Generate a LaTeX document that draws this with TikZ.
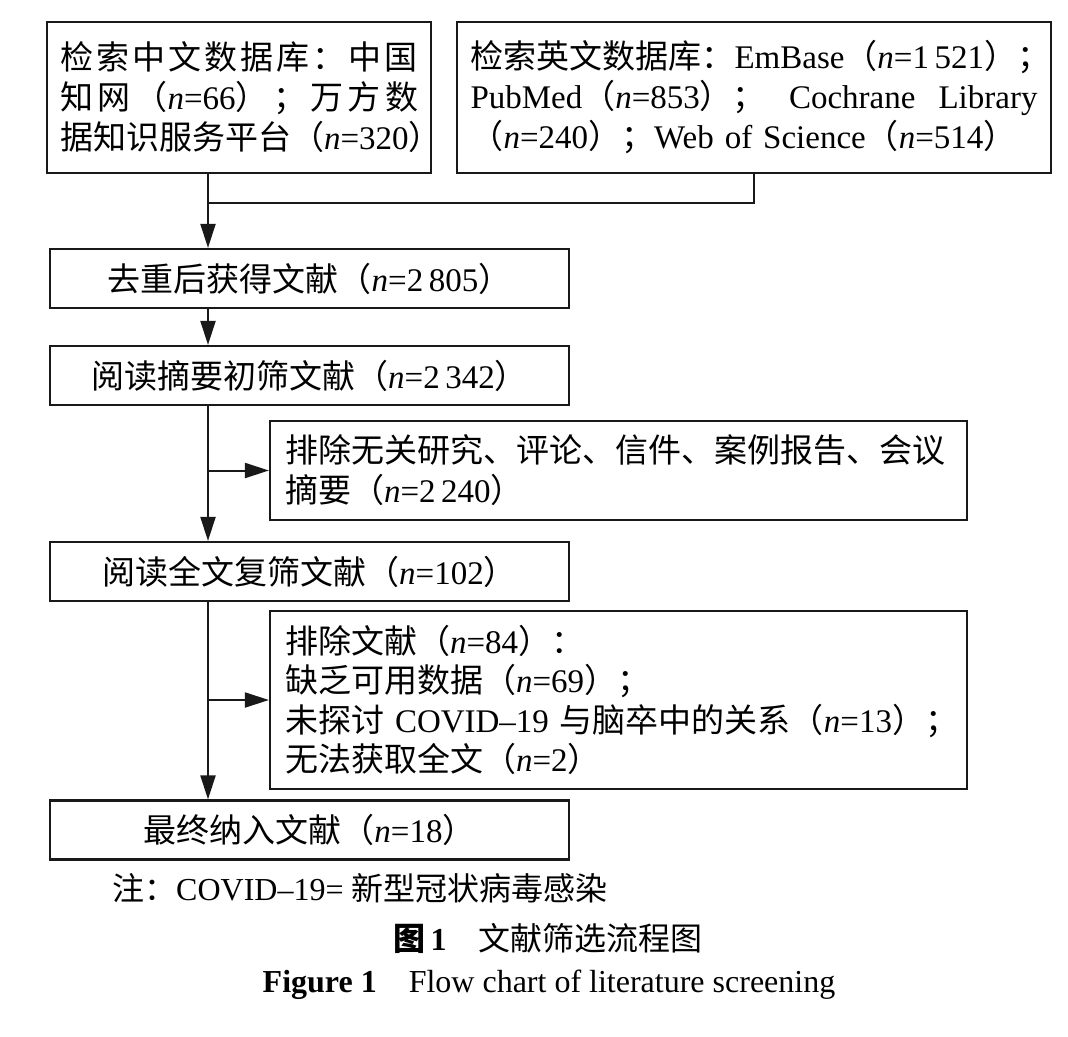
\documentclass[tikz,border=0pt]{standalone}
\usepackage{fontspec}
\setmainfont{Liberation Serif}
\newfontfamily\cjk{Noto Sans CJK SC}
\usetikzlibrary{arrows.meta}
\newcommand\zh[1]{{\cjk #1}}
\newcommand\nn{\textit{n}}
\newcommand\lineL[2]{\leavevmode\hbox to #1{#2\hfil}}
\newcommand\lineS[2]{\leavevmode\hbox to #1{#2}}
\begin{document}
\begin{tikzpicture}[x=1pt,y=-1pt,
  box/.style={draw=black!90, line width=2.2pt, inner sep=0pt, font=\fontsize{33}{40}\selectfont},
  cbox/.style={box, minimum width=519pt, minimum height=59pt, align=center},
  lbox/.style={box, align=left, inner xsep=15pt},
  conn/.style={line width=2pt, draw=black!90},
  arr/.style={conn, -{Triangle[length=24pt,width=15pt]}},
  txt/.style={font=\fontsize{32}{40}\selectfont, inner sep=0pt}]
\useasboundingbox[fill=white] (0,0) rectangle (1068,1036);

\node[lbox, text width=358pt, inner xsep=13pt, minimum height=151pt] (b1) at (239,97.5) {%
\lineS{358pt}{\zh{检}\hfill\zh{索}\hfill\zh{中}\hfill\zh{文}\hfill\zh{数}\hfill\zh{据}\hfill\zh{库}\hfill\zh{：}\hfill\zh{中}\hfill\zh{国}}\\
\lineS{358pt}{\zh{知}\hfill\zh{网}\hfill\zh{（}\nn=66\zh{）}\hfill\zh{；}\hfill\zh{万}\hfill\zh{方}\hfill\zh{数}}\\
\lineL{358pt}{\zh{据知识服务平台（}\nn=320\zh{）}}};

\node[lbox, text width=567pt, inner xsep=13.5pt, minimum height=151pt] (b2) at (754,97.5) {%
\lineL{567pt}{\zh{检索英文数据库：}EmBase\zh{（}\nn=1\,521\zh{）；}}\\
\lineS{567pt}{PubMed\zh{（}\nn=853\zh{）；}\hfill Cochrane\hfill Library}\\
\lineL{567pt}{\zh{（}\nn=240\zh{）；}Web of Science\zh{（}\nn=514\zh{）}}};

\node[cbox] (b3) at (309.5,278.5) {\zh{去重后获得文献（}\nn=2\,805\zh{）}};
\node[cbox] (b4) at (309.5,375.5) {\zh{阅读摘要初筛文献（}\nn=2\,342\zh{）}};

\node[lbox, text width=667pt, minimum height=99pt] (ex1) at (618.5,470.5) {%
\lineL{667pt}{\zh{排除无关研究、评论、信件、案例报告、会议}}\\
\lineL{667pt}{\zh{摘要（}\nn=2\,240\zh{）}}};

\node[cbox] (b5) at (309.5,571.5) {\zh{阅读全文复筛文献（}\nn=102\zh{）}};

\node[lbox, text width=667pt, minimum height=178pt, font=\fontsize{33}{39.5}\selectfont] (ex2) at (618.5,700) {%
\lineL{667pt}{\zh{排除文献（}\nn=84\zh{）：}}\\
\lineL{667pt}{\zh{缺乏可用数据（}\nn=69\zh{）；}}\\
\lineL{667pt}{\zh{未探讨} COVID–19 \zh{与脑卒中的关系（}\nn=13\zh{）；}}\\
\lineL{667pt}{\zh{无法获取全文（}\nn=2\zh{）}}};

\node[cbox] (b6) at (309.5,830) {\zh{最终纳入文献（}\nn=18\zh{）}};

\coordinate (mainx) at (208,0);
\coordinate (jn) at (208,203);

\draw[conn] (b2.south) -- (b2.south |- jn) -- (jn);
\draw[arr] (b1.south -| mainx) -- (b3.north -| mainx);
\draw[arr] (b3.south -| mainx) -- (b4.north -| mainx);
\draw[arr] (b4.south -| mainx) -- (b5.north -| mainx);
\draw[arr] (ex1.west -| mainx) -- (ex1.west);
\draw[arr] (b5.south -| mainx) -- (b6.north -| mainx);
\draw[arr] (ex2.west -| mainx) -- (ex2.west);

\node[txt, anchor=west] (note) at (112,888) {\zh{注：}COVID–19= \zh{新型冠状病毒感染}};
\node[txt] (cap1) at (548,938) {\zh{\bfseries 图}\,\textbf{1}\hspace{1em}\zh{文献筛选流程图}};
\node[txt] (cap2) at (549,985) {\textbf{Figure 1}\hspace{1em}Flow chart of literature screening};
\end{tikzpicture}
\end{document}
